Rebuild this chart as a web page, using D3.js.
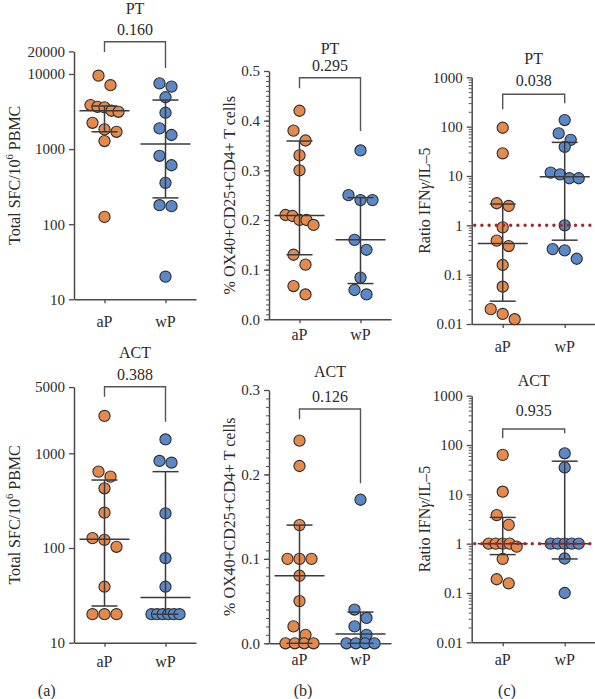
<!DOCTYPE html>
<html><head><meta charset="utf-8">
<script src="https://cdn.jsdelivr.net/npm/d3@7"></script>
<style>
body{margin:0;background:#fff}
svg{display:block}
text{font-family:"Liberation Serif","Times New Roman",serif;fill:#2b2b2b}
</style>
</head><body>
<svg id="c" width="595" height="699"></svg>
<script>
const groups = ["aP", "wP"];

// (a) Total SFC / 10^6 PBMC
const sfcPT_aP  = [9500, 7100, 3860, 3660, 3600, 3240, 3140, 2240, 1830, 1700, 1280, 125];
const sfcPT_wP  = [7500, 6800, 4900, 3050, 1890, 1540, 815, 610, 355, 179, 174, 20];
const sfcACT_aP = [2480, 640, 567, 427, 236, 127, 122, 103, 39, 20, 20, 20];
const sfcACT_wP = [1400, 830, 796, 232, 78, 39, 20, 20, 20, 20, 20, 20];
// (b) % OX40+CD25+CD4+ T cells
const oxPT_aP  = [0.42, 0.38, 0.36, 0.33, 0.30, 0.21, 0.208, 0.20, 0.20, 0.19, 0.13, 0.11, 0.067, 0.05];
const oxPT_wP  = [0.34, 0.25, 0.24, 0.24, 0.16, 0.14, 0.084, 0.059, 0.05];
const oxACT_aP = [0.24, 0.21, 0.14, 0.10, 0.10, 0.10, 0.08, 0.05, 0.02, 0.01, 0, 0, 0, 0];
const oxACT_wP = [0.17, 0.04, 0.03, 0.02, 0.01, 0, 0, 0, 0];
// (c) Ratio IFNγ / IL-5
const ratPT_aP  = [95, 28.8, 2.8, 2.47, 0.91, 0.49, 0.38, 0.157, 0.057, 0.020, 0.016, 0.0125];
const ratPT_wP  = [136, 73, 54, 39, 11.7, 10.8, 9.0, 9.0, 1.0, 0.33, 0.31, 0.21];
const ratACT_aP = [63, 11.3, 3.8, 2.4, 1, 1, 1, 1, 0.87, 0.49, 0.19, 0.157];
const ratACT_wP = [68, 35, 1, 1, 1, 1, 1, 0.5, 0.1];

// median with interquartile range: [lower, median, upper]
const sfcPT_stats  = {aP: [1700, 3240, 3750], wP: [224, 1170, 4500]};
const sfcACT_stats = {aP: [24.4, 124, 522], wP: [20, 30, 640]};
const oxPT_stats   = {aP: [0.13, 0.209, 0.359], wP: [0.072, 0.16, 0.245]};
const oxACT_stats  = {aP: [0, 0.08, 0.14], wP: [0, 0.011, 0.037]};
const ratPT_stats  = {aP: [0.029, 0.43, 2.7], wP: [0.5, 9.7, 48]};
const ratACT_stats = {aP: [0.6, 1, 3.4], wP: [0.49, 1, 47]};

// tick labels
const sfcPT_ticks  = [10, 100, 1000, 10000, 20000];
const sfcACT_ticks = [10, 100, 1000, 5000];
const oxPT_ticks   = [0, 0.1, 0.2, 0.3, 0.4, 0.5];
const oxACT_ticks  = [0, 0.1, 0.2, 0.3];
const rat_ticks    = [0.01, 0.1, 1, 10, 100, 1000];

const pValues = ["0.160", "0.388", "0.295", "0.126", "0.038", "0.935"];
const antigens = ["PT", "ACT"];
const panelLetters = ["(a)", "(b)", "(c)"];

const COL = {aP: "#E5894D", wP: "#5B89C8"};
const svg = d3.select("#c");

const panels = [
  {a: sfcPT_aP, w: sfcPT_wP, st: sfcPT_stats, ticks: sfcPT_ticks, log: true, domain: [10, 20000],
   x0: 74, x1: 196, yTop: 51.4, yBot: 299.3, title: antigens[0], p: pValues[0],
   titleY: 14, pY: 34.5, br: [41.7, 52, 68], labY: 327, ylab: "sfc", ylabX: 14, minor: null},
  {a: sfcACT_aP, w: sfcACT_wP, st: sfcACT_stats, ticks: sfcACT_ticks, log: true, domain: [10, 5000],
   x0: 74, x1: 196, yTop: 387.1, yBot: 642.7, title: antigens[1], p: pValues[1],
   titleY: 358, pY: 380, br: [386.7, 396.7, 421.7], labY: 667, ylab: "sfc", ylabX: 14, minor: null},
  {a: oxPT_aP, w: oxPT_wP, st: oxPT_stats, ticks: oxPT_ticks, log: false, domain: [0, 0.5],
   x0: 269, x1: 391, yTop: 71, yBot: 319.3, title: antigens[0], p: pValues[2],
   titleY: 53.5, pY: 70.5, br: [77.7, 88.3, 131], labY: 340, ylab: "ox", ylabX: 229, minor: 0.01, fmt: d3.format(".1f")},
  {a: oxACT_aP, w: oxACT_wP, st: oxACT_stats, ticks: oxACT_ticks, log: false, domain: [0, 0.3],
   x0: 269, x1: 391, yTop: 390, yBot: 643.3, title: antigens[1], p: pValues[3],
   titleY: 377, pY: 402, br: [409, 419.3, 483.3], labY: 665, ylab: "ox", ylabX: 229, minor: 0.01, fmt: d3.format(".1f")},
  {a: ratPT_aP, w: ratPT_wP, st: ratPT_stats, ticks: rat_ticks, log: true, domain: [0.01, 1000],
   x0: 471.7, x1: 595.7, yTop: 77.3, yBot: 324, title: antigens[0], p: pValues[4],
   titleY: 63.5, pY: 85.5, br: [94.3, 109.3, 103.3], labY: 352, ylab: "rat", ylabX: 424, minor: "log", ref: 1},
  {a: ratACT_aP, w: ratACT_wP, st: ratACT_stats, ticks: rat_ticks, log: true, domain: [0.01, 1000],
   x0: 471.7, x1: 595.7, yTop: 395.7, yBot: 642.3, title: antigens[1], p: pValues[5],
   titleY: 385.5, pY: 415.5, br: [429, 438, 433.3], labY: 665, ylab: "rat", ylabX: 424, minor: "log", ref: 1}
];

function swarm(vals, y, cx) {
  const pts = vals.map(v => ({v, y: y(v)})).sort((a, b) => a.y - b.y);
  const rows = []; let cur = null;
  pts.forEach(p => {
    if (cur && p.y - cur[0].y <= 10.5) cur.push(p); else { cur = [p]; rows.push(cur); }
  });
  rows.forEach(r => {
    const n = r.length, s = n > 1 ? Math.min(12, 28 / (n - 1)) : 0;
    r.forEach((p, i) => p.x = cx + (i - (n - 1) / 2) * s);
  });
  return pts;
}

function yLabel(g, kind, x, yc) {
  const t = g.append("text").attr("transform", `translate(${x},${yc}) rotate(-90)`)
    .attr("text-anchor", "middle").attr("dominant-baseline", "central").style("font-size", "16px");
  if (kind === "sfc") {
    t.append("tspan").text("Total SFC/10");
    t.append("tspan").text("6").style("font-size", "10.5px").attr("dy", "-0.45em");
    t.append("tspan").text(" PBMC").attr("dy", "0.3em");
  } else if (kind === "ox") {
    t.text("% OX40+CD25+CD4+ T cells");
  } else {
    t.append("tspan").text("Ratio IFN");
    t.append("tspan").text("γ").style("font-style", "italic");
    t.append("tspan").text("/IL–5");
  }
}

panels.forEach(cfg => {
  const g = svg.append("g");
  const y = (cfg.log ? d3.scaleLog() : d3.scaleLinear()).domain(cfg.domain).range([cfg.yBot, cfg.yTop]);
  const x = d3.scalePoint().domain(groups).range([cfg.x0, cfg.x1]).padding(0.5);
  const fmt = cfg.fmt || (d => String(d));

  // minor ticks
  let minorVals = [];
  if (cfg.minor === "log") {
    for (let e = -2; e < 3; e++) for (let k = 2; k <= 9; k++) minorVals.push(k * Math.pow(10, e));
  } else if (cfg.minor) {
    const n = Math.round((cfg.domain[1] - cfg.domain[0]) / cfg.minor);
    for (let i = 0; i <= n; i++) minorVals.push(+(cfg.domain[0] + i * cfg.minor).toFixed(4));
  }
  if (minorVals.length) {
    const mg = g.append("g").attr("transform", `translate(${cfg.x0},0)`)
      .call(d3.axisLeft(y).tickValues(minorVals).tickSize(3).tickFormat(""));
    mg.select(".domain").remove();
    mg.selectAll("line").attr("stroke", "#555").attr("stroke-width", 1);
  }
  // y axis
  const ya = g.append("g").attr("transform", `translate(${cfg.x0},0)`)
    .call(d3.axisLeft(y).tickValues(cfg.ticks).tickFormat(fmt).tickSize(5).tickSizeOuter(0).tickPadding(4));
  ya.select(".domain").attr("stroke", "#4a4a4a").attr("stroke-width", 1.5);
  ya.selectAll("line").attr("stroke", "#4a4a4a").attr("stroke-width", 1.3);
  ya.selectAll("text").style("font-family", "'Liberation Serif',serif").style("font-size", "15px").attr("fill", "#2b2b2b");

  // x axis
  const xa = g.append("g").attr("transform", `translate(0,${cfg.yBot})`)
    .call(d3.axisBottom(x).tickSize(4).tickSizeOuter(0).tickFormat(""));
  xa.select(".domain").attr("stroke", "#4a4a4a").attr("stroke-width", 1.5);
  xa.selectAll("line").attr("stroke", "#4a4a4a").attr("stroke-width", 1.3);
  g.selectAll(".xl").data(groups).join("text").attr("class", "xl")
    .attr("x", d => x(d)).attr("y", cfg.labY).attr("text-anchor", "middle")
    .style("font-size", "16px").text(d => d);

  // y label
  yLabel(g, cfg.ylab, cfg.ylabX, (cfg.yTop + cfg.yBot) / 2);

  // title and p value
  const cx = (x("aP") + x("wP")) / 2;
  g.append("text").attr("x", cx).attr("y", cfg.titleY).attr("text-anchor", "middle").style("font-size", "16px").text(cfg.title);
  g.append("text").attr("x", cx).attr("y", cfg.pY).attr("text-anchor", "middle").style("font-size", "16px").text(cfg.p);
  // bracket
  const [bt, bl, brr] = cfg.br;
  g.append("path").attr("d", `M${x("aP")},${bl}V${bt}H${x("wP")}V${brr}`)
    .attr("fill", "none").attr("stroke", "#555").attr("stroke-width", 1.4);

  // points
  const series = {aP: cfg.a, wP: cfg.w};
  groups.forEach(gr => {
    const pts = swarm(series[gr], y, x(gr));
    g.append("g").selectAll("circle").data(pts).join("circle")
      .attr("cx", d => d.x).attr("cy", d => d.y).attr("r", 5.6)
      .attr("fill", COL[gr]).attr("stroke", "#2e2e2e").attr("stroke-width", 1.1);
  });
  // median + IQR
  groups.forEach(gr => {
    const [lo, md, hi] = cfg.st[gr];
    const X = x(gr), eb = g.append("g").attr("stroke", "#3a3a3a").attr("stroke-width", 1.5);
    eb.append("line").attr("x1", X).attr("x2", X).attr("y1", y(lo)).attr("y2", y(hi));
    eb.append("line").attr("x1", X - 25).attr("x2", X + 25).attr("y1", y(md)).attr("y2", y(md));
    [lo, hi].forEach(v => eb.append("line").attr("x1", X - 13).attr("x2", X + 13).attr("y1", y(v)).attr("y2", y(v)));
  });
  // reference line at ratio = 1
  if (cfg.ref) {
    g.append("line").attr("x1", cfg.x0 + 3).attr("x2", cfg.x1).attr("y1", y(cfg.ref)).attr("y2", y(cfg.ref))
      .attr("stroke", "#A3262C").attr("stroke-width", 3.4).attr("stroke-linecap", "round")
      .attr("stroke-dasharray", "0 7.2");
  }
});

// panel letters
const letterX = [46.7, 303, 507];
svg.selectAll(".pl").data(panelLetters).join("text").attr("class", "pl")
  .attr("x", (d, i) => letterX[i]).attr("y", 696).attr("text-anchor", "middle")
  .style("font-size", "16px").text(d => d);
</script>
</body></html>
